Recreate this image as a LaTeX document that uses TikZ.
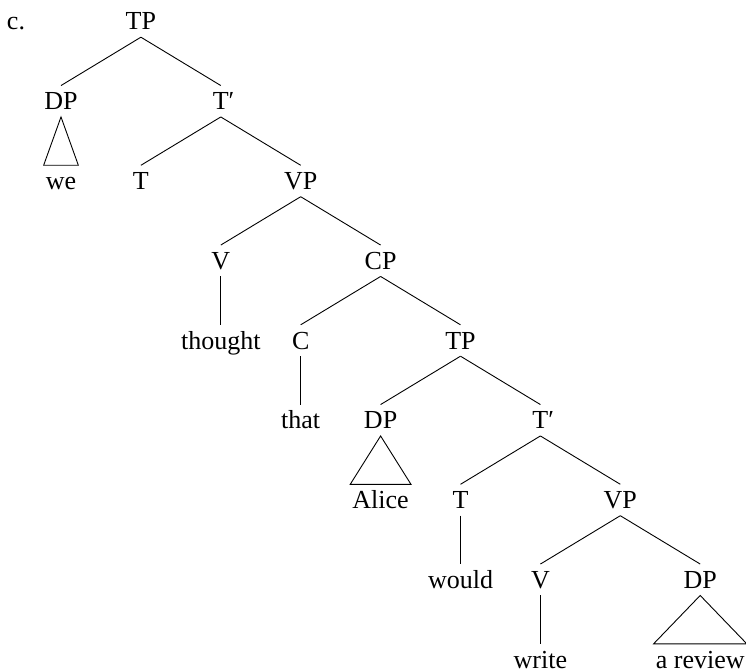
\documentclass[tikz,border=0pt]{standalone}
\usepackage{fontspec}
\setmainfont{Liberation Serif}

\begin{document}
\begin{tikzpicture}[x=1pt, y=-1pt,
    label/.style={anchor=base, inner xsep=0pt, inner ysep=7pt, text height=17pt, text depth=0pt, font=\fontsize{26}{30}\selectfont},
    word/.style={label, inner xsep=2pt},
    branch/.style={line width=0.9pt}]

% General parameters
\def\colZero{61}        % x of the leftmost column
\def\rowZero{30}        % baseline of the top row
\def\colStep{79.9}      % Distance between columns
\def\rowStep{79.75}     % Distance between rows

\useasboundingbox (0,0) rectangle (746,671);

\node[label] (ex) at (16, \rowZero) {c.};

% Category labels, row by row
\node[label] (tp-0)   at (\colZero+1*\colStep, \rowZero+0*\rowStep) {TP};
\node[label] (dp-0)   at (\colZero+0*\colStep, \rowZero+1*\rowStep) {DP};
\node[label] (tb-0)   at (\colZero+2*\colStep, \rowZero+1*\rowStep) {T\rlap{′}};
\node[word]  (we)     at (\colZero+0*\colStep, \rowZero+2*\rowStep) {we};
\node[label] (t-0)    at (\colZero+1*\colStep, \rowZero+2*\rowStep) {T};
\node[label] (vp-0)   at (\colZero+3*\colStep, \rowZero+2*\rowStep) {VP};
\node[label] (v-0)    at (\colZero+2*\colStep, \rowZero+3*\rowStep) {V};
\node[label] (cp-0)   at (\colZero+4*\colStep, \rowZero+3*\rowStep) {CP};
\node[word]  (thought) at (\colZero+2*\colStep, \rowZero+4*\rowStep) {thought};
\node[label] (c-0)    at (\colZero+3*\colStep, \rowZero+4*\rowStep) {C};
\node[label] (tp-1)   at (\colZero+5*\colStep, \rowZero+4*\rowStep) {TP};
\node[word]  (that)   at (\colZero+3*\colStep, \rowZero+5*\rowStep) {that};
\node[label] (dp-1)   at (\colZero+4*\colStep, \rowZero+5*\rowStep) {DP};
\node[label] (tb-1)   at (\colZero+6*\colStep, \rowZero+5*\rowStep) {T\rlap{′}};
\node[word]  (alice)  at (\colZero+4*\colStep, \rowZero+6*\rowStep) {Alice};
\node[label] (t-1)    at (\colZero+5*\colStep, \rowZero+6*\rowStep) {T};
\node[label] (vp-1)   at (\colZero+7*\colStep, \rowZero+6*\rowStep) {VP};
\node[word]  (would)  at (\colZero+5*\colStep, \rowZero+7*\rowStep) {would};
\node[label] (v-1)    at (\colZero+6*\colStep, \rowZero+7*\rowStep) {V};
\node[label] (dp-2)   at (\colZero+8*\colStep, \rowZero+7*\rowStep) {DP};
\node[word]  (write)  at (\colZero+6*\colStep, \rowZero+8*\rowStep) {write};
\node[word]  (review) at (\colZero+8*\colStep, \rowZero+8*\rowStep) {a review};

% Binary branches
\foreach \mother/\left/\right in {tp-0/dp-0/tb-0, tb-0/t-0/vp-0, vp-0/v-0/cp-0, cp-0/c-0/tp-1,
                                  tp-1/dp-1/tb-1, tb-1/t-1/vp-1, vp-1/v-1/dp-2} {
    \draw[branch] (\mother.south) -- (\left.north);
    \draw[branch] (\mother.south) -- (\right.north);
}

% Unary branches down to the words
\foreach \mother/\daughter in {v-0/thought, c-0/that, t-1/would, v-1/write} {
    \draw[branch] (\mother.south) -- (\daughter.north);
}

% Triangles over unanalysed phrases
\foreach \mother/\daughter in {dp-0/we, dp-1/alice, dp-2/review} {
    \draw[branch] (\mother.south) -- (\daughter.north west) -- (\daughter.north east) -- cycle;
}

\end{tikzpicture}
\end{document}
